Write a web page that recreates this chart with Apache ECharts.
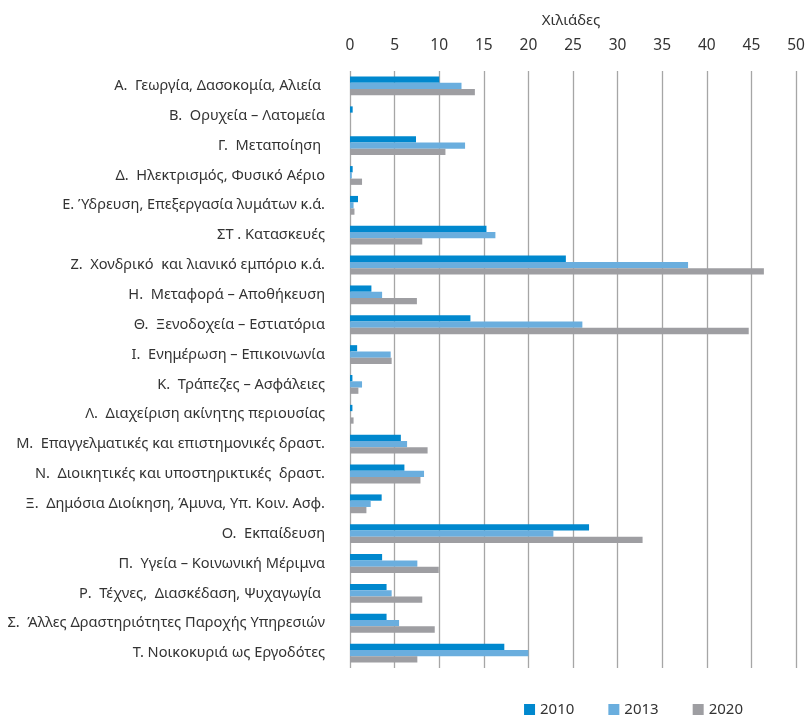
<!DOCTYPE html>
<html><head><meta charset="utf-8">
<script src="https://cdn.jsdelivr.net/npm/echarts@6/dist/echarts.min.js"></script>
<style>html,body{margin:0;padding:0;background:#fff}#c{width:806px;height:717px}</style>
</head><body><div id="c"></div>
<script>
const categories = [
  "Α.  Γεωργία, Δασοκομία, Αλιεία ",
  "Β.  Ορυχεία – Λατομεία",
  "Γ.  Μεταποίηση ",
  "Δ.  Ηλεκτρισμός, Φυσικό Αέριο",
  "Ε. Ύδρευση, Επεξεργασία λυμάτων κ.ά.",
  "ΣΤ . Κατασκευές",
  "Ζ.  Χονδρικό  και λιανικό εμπόριο κ.ά.",
  "Η.  Μεταφορά – Αποθήκευση",
  "Θ.  Ξενοδοχεία – Εστιατόρια",
  "Ι.  Ενημέρωση – Επικοινωνία",
  "Κ.  Τράπεζες – Ασφάλειες",
  "Λ.  Διαχείριση ακίνητης περιουσίας",
  "Μ.  Επαγγελματικές και επιστημονικές δραστ.",
  "Ν.  Διοικητικές και υποστηρικτικές  δραστ.",
  "Ξ.  Δημόσια Διοίκηση, Άμυνα, Υπ. Κοιν. Ασφ.",
  "Ο.  Εκπαίδευση",
  "Π.  Υγεία – Κοινωνική Μέριμνα",
  "Ρ.  Τέχνες,  Διασκέδαση, Ψυχαγωγία ",
  "Σ.  Άλλες Δραστηριότητες Παροχής Υπηρεσιών",
  "Τ. Νοικοκυριά ως Εργοδότες"
];
const years = ["2010", "2013", "2020"];
const values2010 = [10.0, 0.3, 7.4, 0.3, 0.9, 15.3, 24.2, 2.4, 13.5, 0.8, 0.27, 0.27, 5.7, 6.1, 3.55, 26.8, 3.6, 4.1, 4.1, 17.3];
const values2013 = [12.5, 0, 12.9, 0.2, 0.4, 16.3, 37.9, 3.6, 26.05, 4.56, 1.35, 0, 6.4, 8.3, 2.32, 22.8, 7.55, 4.67, 5.5, 20.0];
const values2020 = [14.0, 0, 10.7, 1.35, 0.5, 8.1, 46.4, 7.5, 44.7, 4.67, 0.94, 0.4, 8.7, 7.9, 1.84, 32.8, 9.95, 8.1, 9.5, 7.55];
const xTicks = { min: 0, max: 50, interval: 5 };
const colors = ["#0088CE", "#6AAEDE", "#9E9EA2"];

const font = "'Noto Sans', sans-serif";
const chart = echarts.init(document.getElementById('c'), null, { renderer: 'canvas' });
chart.setOption({
  animation: false,
  color: colors,
  textStyle: { fontFamily: font },
  title: {
    text: "Χιλιάδες", left: 566, top: 8, textAlign: 'center',
    textStyle: { fontFamily: font, fontSize: 15, fontWeight: 'normal', color: '#333' }
  },
  legend: {
    data: years, right: 58, top: 697, itemWidth: 11, itemHeight: 11, itemGap: 34,
    icon: 'rect',
    textStyle: { fontFamily: font, fontSize: 15, color: '#333' }
  },
  grid: { left: 350, right: 10, top: 71, bottom: 49, containLabel: false, outerBoundsMode: 'none' },
  xAxis: {
    type: 'value', position: 'top', min: xTicks.min, max: xTicks.max, interval: xTicks.interval,
    axisLine: { show: false }, axisTick: { show: false },
    splitLine: { show: true, lineStyle: { color: '#A6A6A6', width: 1.3 } },
    axisLabel: { fontFamily: font, fontSize: 15.5, color: '#333', margin: 17 }
  },
  yAxis: {
    type: 'category', inverse: true, data: categories,
    axisLine: { show: false }, axisTick: { show: false },
    axisLabel: { fontFamily: font, fontSize: 14.6, color: '#333', margin: 25 }
  },
  series: [
    { name: years[0], type: 'bar', data: values2010, barGap: '0%', barCategoryGap: '37%' },
    { name: years[1], type: 'bar', data: values2013, barGap: '0%', barCategoryGap: '37%' },
    { name: years[2], type: 'bar', data: values2020, barGap: '0%', barCategoryGap: '37%' }
  ]
});
</script></body></html>
